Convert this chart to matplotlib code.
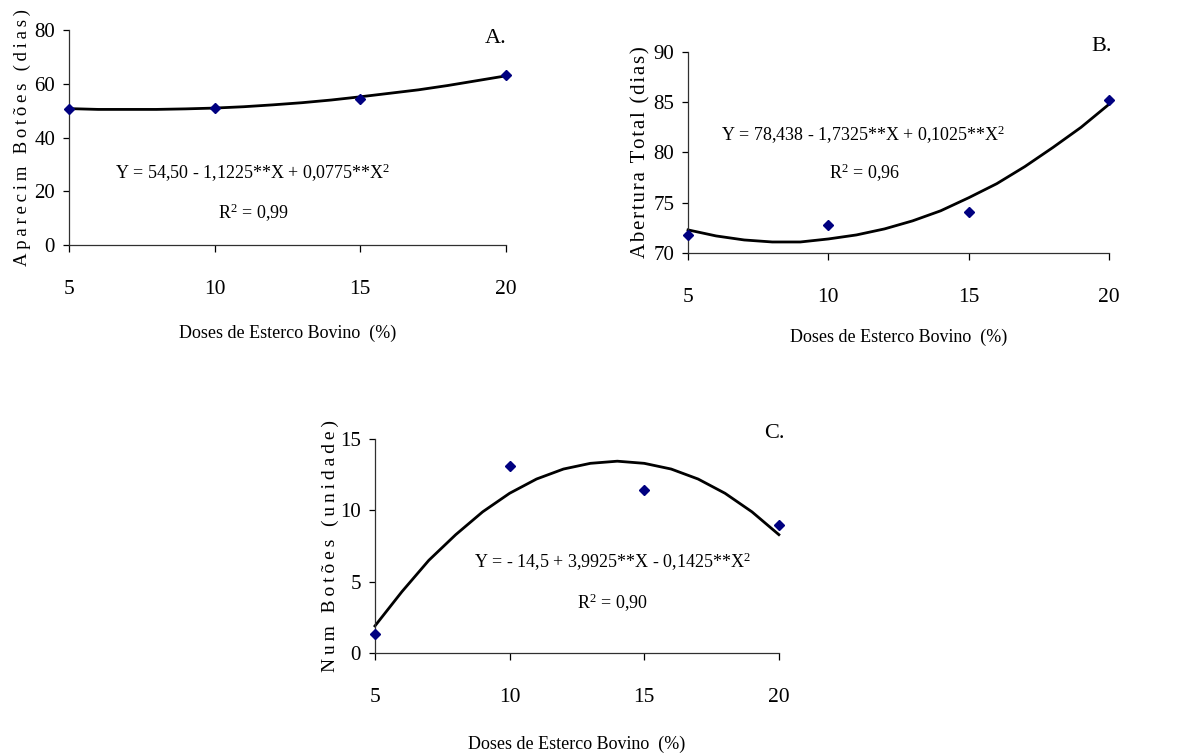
import numpy as np
import matplotlib
matplotlib.use("Agg")
import matplotlib.pyplot as plt

plt.rcParams['font.family'] = ['Liberation Serif', 'DejaVu Serif']
plt.rcParams['mathtext.fontset'] = 'custom'
plt.rcParams['mathtext.rm'] = 'Liberation Serif'
plt.rcParams['mathtext.default'] = 'regular'

# observed points
doses = [5, 10, 15, 20]
botoes_dias = [50.5, 51.2, 54.5, 63.2]
abertura_dias = [71.8, 72.8, 74.1, 85.2]
num_botoes = [1.3, 13.1, 11.4, 9.0]

# fitted curves
curve_x = [5, 6, 7, 8, 9, 10, 11, 12, 13, 14, 15, 16, 17, 18, 19, 20]
curve_a = [50.8, 50.5, 50.5, 50.5, 50.7, 51.0, 51.5, 52.2, 53.0, 54.0,
           55.2, 56.5, 57.8, 59.4, 61.2, 63.0]
curve_b = [72.3, 71.7, 71.3, 71.1, 71.1, 71.4, 71.8, 72.4, 73.2, 74.2,
           75.5, 76.9, 78.6, 80.5, 82.5, 84.8]
curve_c = [1.9, 4.3, 6.5, 8.3, 9.9, 11.2, 12.2, 12.9, 13.3, 13.45,
           13.3, 12.9, 12.2, 11.2, 9.9, 8.3]

xlab = "Doses de Esterco Bovino  (%)"


def spaced(s, sep='\u2009'):
    return sep.join(s)


panels = [
    dict(rect=[0.0584, 0.676, 0.370, 0.284], y=botoes_dias, c=curve_a,
         ylim=(0, 80), yt=[0, 20, 40, 60, 80],
         ylabel=spaced("Aparecim Botões (dias)"), ylsize=13.5, ylx=-0.086,
         xlpad=19, tag="A.",
         eq="Y = 54,50 - 1,1225**X + 0,0775**X$^{2}$", r2="R$^{2}$ = 0,99",
         eqxy=(0.421, 0.335), r2xy=(0.421, 0.149), tagxy=(1.002, 0.963)),
    dict(rect=[0.5826, 0.6653, 0.3565, 0.266], y=abertura_dias, c=curve_b,
         ylim=(70, 90), yt=[70, 75, 80, 85, 90],
         ylabel=spaced("Abertura Total (dias)", '\u200a'), ylsize=15,
         ylx=-0.09, xlpad=16, tag="B.",
         eq="Y = 78,438 - 1,7325**X + 0,1025**X$^{2}$", r2="R$^{2}$ = 0,96",
         eqxy=(0.416, 0.587), r2xy=(0.42, 0.398), tagxy=(1.007, 1.025)),
    dict(rect=[0.3175, 0.1362, 0.342, 0.283], y=num_botoes, c=curve_c,
         ylim=(0, 15), yt=[0, 5, 10, 15],
         ylabel=spaced("Num Botões (unidade)"), ylsize=14, ylx=-0.09,
         xlpad=21, tag="C.",
         eq="Y = - 14,5 + 3,9925**X - 0,1425**X$^{2}$", r2="R$^{2}$ = 0,90",
         eqxy=(0.587, 0.425), r2xy=(0.589, 0.234), tagxy=(1.015, 1.028)),
]

fig = plt.figure(figsize=(11.81, 7.56), dpi=100)

for p in panels:
    ax = fig.add_axes(p['rect'])
    ax.plot(curve_x, p['c'], color='black', lw=2.0, zorder=2, clip_on=False)
    ax.plot(doses, p['y'], linestyle='none', marker='D', ms=5.5,
            color='#000080', zorder=3, clip_on=False)
    ax.set_xlim(5, 20)
    ax.set_ylim(*p['ylim'])
    ax.set_xticks(doses)
    ax.set_yticks(p['yt'])
    for s in ['top', 'right']:
        ax.spines[s].set_visible(False)
    for s in ['left', 'bottom']:
        ax.spines[s].set_linewidth(0.9)
        ax.spines[s].set_color('#303030')
    ax.tick_params(axis='x', length=5, width=0.9, pad=20, labelsize=15.5)
    ax.tick_params(axis='y', length=4.5, width=0.9, pad=5.5, labelsize=15)
    ax.set_xlabel(xlab, fontsize=13, labelpad=p['xlpad'])
    ax.set_ylabel(p['ylabel'], fontsize=p['ylsize'])
    ax.yaxis.set_label_coords(p['ylx'], 0.5)
    ax.text(p['eqxy'][0], p['eqxy'][1], p['eq'], transform=ax.transAxes,
            ha='center', va='center', fontsize=13)
    ax.text(p['r2xy'][0], p['r2xy'][1], p['r2'], transform=ax.transAxes,
            ha='center', va='center', fontsize=13)
    ax.text(p['tagxy'][0], p['tagxy'][1], p['tag'], transform=ax.transAxes,
            ha='right', va='center', fontsize=16)

fig.savefig("out.png", dpi=100)
